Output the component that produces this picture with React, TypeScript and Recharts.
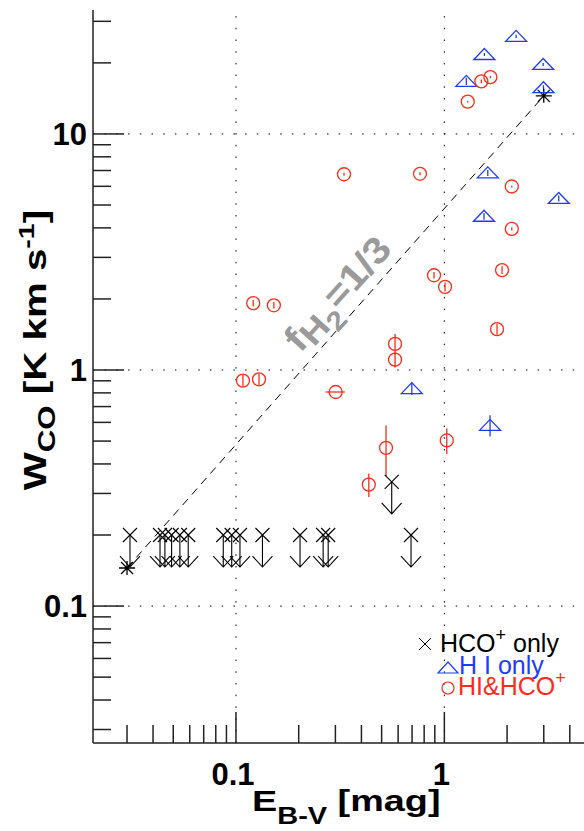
import React from "react";
import { ScatterChart, Scatter, XAxis, YAxis, ReferenceLine, ErrorBar } from "recharts";

const FONT = '"Liberation Sans", Arial, Helvetica, sans-serif';
const RED = "#ff2a1a";
const BLUE = "#1e3cff";
const AXIS = "#222";

const X_DOMAIN = [0.0206, 5];
const Y_DOMAIN = [0.0263, 33.5];

const xMajor = [0.1, 1];
const xMajorLabels = ["0.1", "1"];
const yMajor = [0.1, 1, 10];
const yMajorLabels = ["0.1", "1", "10"];

// HCO+ only: upper limits on W_CO
const hcoE = [0.031, 0.0432, 0.0456, 0.0491, 0.0538, 0.059, 0.0869, 0.0954, 0.1045, 0.134, 0.203, 0.262, 0.277, 0.692, 0.559];
const hcoW = [0.2, 0.2, 0.2, 0.2, 0.2, 0.2, 0.2, 0.2, 0.2, 0.2, 0.2, 0.2, 0.2, 0.2, 0.336];

// H I only
const hiE = [2.21, 1.556, 2.98, 1.275, 2.99, 1.616, 3.54, 1.55, 0.698, 1.657];
const hiW = [25.9, 21.7, 19.7, 16.7, 15.7, 6.84, 5.33, 4.48, 0.834, 0.583];
const hiWErr = [0.4, 0.3, 0.3, 0.6, 0.4, 0.2, 0.15, 0.15, 0.05, 0.06];

// HI & HCO+
const bothE = [1.295, 1.505, 1.663, 0.33, 0.764, 2.107, 2.107, 1.892, 0.892, 1.008, 1.79, 0.121, 0.152, 0.58, 0.58, 0.108, 0.129, 0.301, 0.525, 0.434, 1.027];
const bothW = [13.7, 16.7, 17.4, 6.75, 6.78, 5.99, 3.96, 2.65, 2.52, 2.25, 1.49, 1.92, 1.88, 1.29, 1.106, 0.902, 0.913, 0.807, 0.468, 0.327, 0.503];
const bothWErr = [0.1, 0.3, 0.2, 0.1, 0.1, 0.06, 0.06, 0.1, 0.08, 0.1, 0.08, 0.06, 0.06, 0.13, 0.08, 0.05, 0.05, 0, 0.114, 0.037, 0.062];
const bothEErr = [0, 0, 0, 0, 0, 0, 0, 0, 0, 0, 0, 0, 0, 0, 0, 0, 0, 0.032, 0, 0, 0];

// f_H2 = 1/3 relation
const fLineE = [0.03, 3.0];
const fLineW = [0.145, 14.5];
const fLabelE = [0.306];
const fLabelW = [2.11];

const hcoData = hcoE.map((x, i) => ({ x, y: hcoW[i] }));
const hiData = hiE.map((x, i) => ({ x, y: hiW[i], ey: hiWErr[i] }));
const bothData = bothE.map((x, i) => ({ x, y: bothW[i], ey: bothWErr[i], ex: bothEErr[i] }));
const fLine = fLineE.map((x, i) => ({ x, y: fLineW[i] }));
const fLabel = fLabelE.map((x, i) => ({ x, y: fLabelW[i] }));

const logTicks = (lo: number, hi: number) => {
  const out: number[] = [];
  for (let p = Math.floor(Math.log10(lo)); p <= Math.ceil(Math.log10(hi)); p++) {
    for (let m = 1; m <= 9; m++) {
      const v = m * Math.pow(10, p);
      if (v >= lo && v <= hi) out.push(v);
    }
  }
  return out;
};
const xTicks = logTicks(X_DOMAIN[0], X_DOMAIN[1]);
const yTicks = logTicks(Y_DOMAIN[0], Y_DOMAIN[1]);

const isMajor = (v: number) => Math.abs(Math.log10(v) - Math.round(Math.log10(v))) < 1e-6;
const tickLen = (v: number) => (isMajor(v) ? 31 : 18);
const labelIndex = (list: number[], v: number) => list.findIndex((m) => Math.abs(m - v) < 1e-9);

const BottomTick = (p: any) => {
  const v = p.payload.value;
  const i = labelIndex(xMajor, v);
  return (
    <g>
      <line x1={p.x} x2={p.x} y1={p.y} y2={p.y - tickLen(v)} stroke={AXIS} strokeWidth={1.5} />
      {i >= 0 && (
        <text x={p.x - 3} y={p.y + 42} textAnchor="middle" fontFamily={FONT} fontWeight="bold" fontSize={31} fill="#000">
          {xMajorLabels[i]}
        </text>
      )}
    </g>
  );
};

const TopTick = (p: any) => (
  <line x1={p.x} x2={p.x} y1={p.y} y2={p.y + tickLen(p.payload.value)} stroke={AXIS} strokeWidth={1.5} />
);

const LeftTick = (p: any) => {
  const v = p.payload.value;
  const i = labelIndex(yMajor, v);
  return (
    <g>
      <line x1={p.x} x2={p.x + tickLen(v)} y1={p.y} y2={p.y} stroke={AXIS} strokeWidth={1.5} />
      {i >= 0 && (
        <text x={p.x - 6} y={p.y + 11} textAnchor="end" fontFamily={FONT} fontWeight="bold" fontSize={31} fill="#000">
          {yMajorLabels[i]}
        </text>
      )}
    </g>
  );
};

const RightTick = (p: any) => (
  <line x1={p.x} x2={p.x - tickLen(p.payload.value)} y1={p.y} y2={p.y} stroke={AXIS} strokeWidth={1.5} />
);

const UpperLimit = ({ cx, cy }: any) => (
  <g stroke="#000" strokeWidth={1.1} fill="none">
    <path d={`M${cx - 7},${cy - 7}L${cx + 7},${cy + 7}M${cx - 7},${cy + 7}L${cx + 7},${cy - 7}`} />
    <path d={`M${cx},${cy}V${cy + 32}M${cx - 10},${cy + 21}L${cx},${cy + 32}L${cx + 10},${cy + 21}`} />
  </g>
);

const Triangle = ({ cx, cy }: any) => (
  <path d={`M${cx - 10.5},${cy + 5}L${cx},${cy - 6}L${cx + 10.5},${cy + 5}Z`} fill="none" stroke={BLUE} strokeWidth={1.3} />
);

const Ring = ({ cx, cy }: any) => <circle cx={cx} cy={cy} r={6.5} fill="none" stroke={RED} strokeWidth={1.3} />;

const Asterisk = ({ cx, cy }: any) => (
  <path
    d={`M${cx - 6},${cy - 6}L${cx + 6},${cy + 6}M${cx - 6},${cy + 6}L${cx + 6},${cy - 6}M${cx - 8},${cy}H${cx + 8}M${cx},${cy - 7}V${cy + 7}`}
    stroke="#000"
    strokeWidth={1.3}
  />
);

const FLabel = ({ cx, cy }: any) => (
  <text
    transform={`translate(${cx},${cy}) rotate(-48) scale(1.12,1)`}
    textAnchor="middle"
    y={13}
    fontFamily={FONT}
    fontWeight="bold"
    fontSize={37}
    fill="#9a9a9a"
  >
    f<tspan dy={6} fontSize={33}>H</tspan>
    <tspan dy={8} fontSize={27}>2</tspan>
    <tspan dy={-14}>=1/3</tspan>
  </text>
);

const grid = { stroke: "#000", strokeWidth: 1, strokeDasharray: "1.5 10.2" };

export default function App() {
  return (
    <div style={{ position: "fixed", left: 0, top: 0, width: 584, height: 831, overflow: "hidden", background: "#fff" }}>
      <ScatterChart width={600} height={831} margin={{ top: 10, right: 10, bottom: 0, left: 0 }}>
        <XAxis
          xAxisId="b"
          dataKey="x"
          type="number"
          scale="log"
          domain={X_DOMAIN}
          allowDataOverflow
          ticks={xTicks}
          interval={0}
          height={88}
          tickSize={0}
          tickMargin={0}
          tickLine={false}
          axisLine={{ stroke: AXIS, strokeWidth: 1.5 }}
          tick={BottomTick}
        />
        <XAxis
          xAxisId="t"
          orientation="top"
          dataKey="x"
          type="number"
          scale="log"
          domain={X_DOMAIN}
          allowDataOverflow
          ticks={xTicks}
          interval={0}
          height={0}
          tickSize={0}
          tickMargin={0}
          tickLine={false}
          axisLine={{ stroke: AXIS, strokeWidth: 1.5 }}
          tick={TopTick}
        />
        <YAxis
          yAxisId="l"
          dataKey="y"
          type="number"
          scale="log"
          domain={Y_DOMAIN}
          allowDataOverflow
          ticks={yTicks}
          interval={0}
          width={93}
          tickSize={0}
          tickMargin={0}
          tickLine={false}
          axisLine={{ stroke: AXIS, strokeWidth: 1.5 }}
          tick={LeftTick}
        />
        <YAxis
          yAxisId="r"
          orientation="right"
          dataKey="y"
          type="number"
          scale="log"
          domain={Y_DOMAIN}
          allowDataOverflow
          ticks={yTicks}
          interval={0}
          width={0}
          tickSize={0}
          tickMargin={0}
          tickLine={false}
          axisLine={{ stroke: AXIS, strokeWidth: 1.5 }}
          tick={RightTick}
        />

        {xMajor.map((v) => (
          <ReferenceLine key={`gx${v}`} xAxisId="b" yAxisId="l" x={v} {...grid} />
        ))}
        {yMajor.map((v) => (
          <ReferenceLine key={`gy${v}`} xAxisId="b" yAxisId="l" y={v} {...grid} />
        ))}

        <Scatter
          xAxisId="b"
          yAxisId="l"
          data={fLine}
          line={{ stroke: "#000", strokeWidth: 1, strokeDasharray: "8 6" }}
          shape={Asterisk}
          isAnimationActive={false}
        />
        <Scatter xAxisId="b" yAxisId="l" data={fLabel} shape={FLabel} isAnimationActive={false} />

        <Scatter xAxisId="b" yAxisId="l" data={hcoData} shape={UpperLimit} isAnimationActive={false} />
        <Scatter xAxisId="b" yAxisId="l" data={hiData} shape={Triangle} isAnimationActive={false}>
          <ErrorBar dataKey="ey" direction="y" width={0} stroke={BLUE} strokeWidth={1.3} />
        </Scatter>
        <Scatter xAxisId="b" yAxisId="l" data={bothData} shape={Ring} isAnimationActive={false}>
          <ErrorBar dataKey="ey" direction="y" width={0} stroke={RED} strokeWidth={1.3} />
          <ErrorBar dataKey="ex" direction="x" width={0} stroke={RED} strokeWidth={1.3} />
        </Scatter>
      </ScatterChart>

      <svg width={584} height={831} style={{ position: "absolute", left: 0, top: 0, pointerEvents: "none" }}>
        <text transform="translate(46,350) rotate(-90) scale(1.3,1)" textAnchor="middle" fontFamily={FONT} fontWeight="bold" fontSize={31} fill="#000">
          W<tspan dy={9} fontSize={24}>CO</tspan>
          <tspan dy={-9}> [K km s</tspan>
          <tspan dy={-12} fontSize={22}>-1</tspan>
          <tspan dy={12}>]</tspan>
        </text>
        <text transform="translate(252,811) scale(1.26,1)" fontFamily={FONT} fontWeight="bold" fontSize={30} fill="#000">
          E<tspan dy={13} fontSize={23}>B-V</tspan>
          <tspan dy={-13}> [mag]</tspan>
        </text>

        <g fontFamily={FONT} fontSize={25}>
          <path d="M419,638L431,650M419,650L431,638" stroke="#000" strokeWidth={1} />
          <text x={440} y={652} fill="#000">
            HCO<tspan dy={-11} fontSize={18}>+</tspan>
            <tspan dy={11}> only</tspan>
          </text>
          <path d="M438,673L448,662L458,673Z" fill="none" stroke={BLUE} strokeWidth={1.2} />
          <text x={459} y={674} fill={BLUE}>H I only</text>
          <circle cx={448} cy={688} r={6} fill="none" stroke={RED} strokeWidth={1.2} />
          <text x={458} y={695} fill={RED}>
            HI&amp;HCO<tspan dy={-11} fontSize={18}>+</tspan>
          </text>
        </g>
      </svg>
    </div>
  );
}
